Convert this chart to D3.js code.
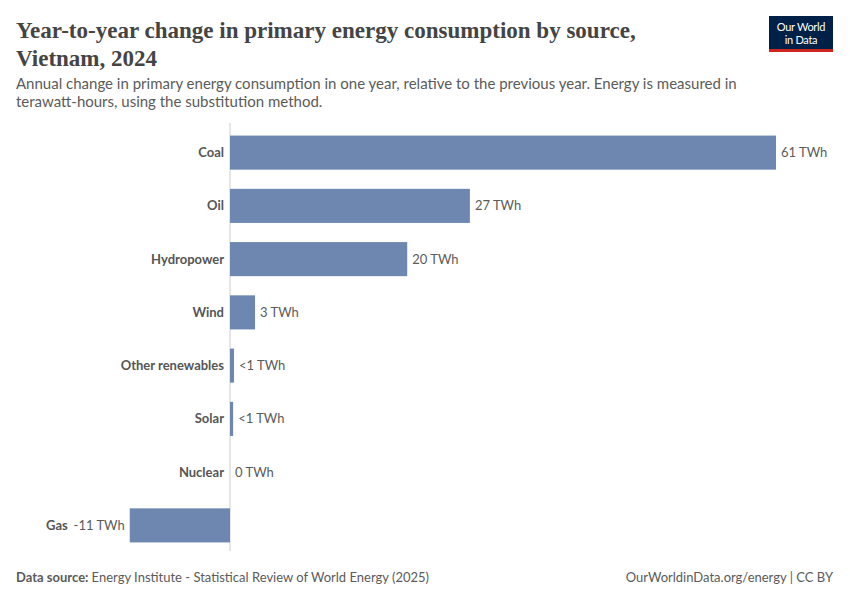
<!DOCTYPE html>
<html>
<head>
<meta charset="utf-8">
<script src="https://cdn.jsdelivr.net/npm/d3@7"></script>
<style>
  body { margin: 0; background: #fff; }
  svg { font-family: Lato, "Noto Sans", sans-serif; }
</style>
</head>
<body>
<svg id="chart" width="850" height="600"></svg>
<script>
// Data (TWh change, 2024 vs 2023)
const sources = ["Coal", "Oil", "Hydropower", "Wind", "Other renewables", "Solar", "Nuclear", "Gas"];
const changes = [61.0, 26.8, 19.8, 2.8, 0.45, 0.35, 0, -11.2];
const valueLabels = ["61 TWh", "27 TWh", "20 TWh", "3 TWh", "<1 TWh", "<1 TWh", "0 TWh", "-11 TWh"];

const data = sources.map((s, i) => ({ source: s, value: changes[i], label: valueLabels[i] }));

const svg = d3.select("#chart");

// title
const title = svg.append("g").attr("font-family", "'Liberation Serif', 'DejaVu Serif', serif")
  .attr("fill", "#444").attr("font-size", 25).attr("font-weight", 700);
const t1 = title.append("text").attr("x", 16).attr("y", 38)
  .text("Year-to-year change in primary energy consumption by source,");
title.append("text").attr("x", 16).attr("y", 66).text("Vietnam, 2024");
// fit title width to the reference
const tw = t1.node().getComputedTextLength();
title.attr("font-size", 25 * 620 / tw);

// subtitle
svg.append("text").attr("x", 16).attr("y", 89).attr("fill", "#5b5b5b").attr("font-size", 15)
  .text("Annual change in primary energy consumption in one year, relative to the previous year. Energy is measured in");
svg.append("text").attr("x", 16).attr("y", 107).attr("fill", "#5b5b5b").attr("font-size", 15)
  .text("terawatt-hours, using the substitution method.");

// logo
const logo = svg.append("g").attr("transform", "translate(769,16)");
logo.append("rect").attr("width", 64).attr("height", 36).attr("fill", "#002147");
logo.append("rect").attr("y", 33).attr("width", 64).attr("height", 3).attr("fill", "#ce261e");
logo.append("text").attr("x", 32).attr("y", 15).attr("text-anchor", "middle")
  .attr("fill", "#fff").attr("font-size", 11).attr("letter-spacing", -0.3).text("Our World");
logo.append("text").attr("x", 32).attr("y", 28).attr("text-anchor", "middle")
  .attr("fill", "#fff").attr("font-size", 11).attr("letter-spacing", -0.3).text("in Data");

// scales
const x = d3.scaleLinear()
  .domain([0, d3.max(data, d => d.value)])
  .range([230, 776]);

const y = d3.scaleBand()
  .domain(sources)
  .range([126, 552])
  .paddingInner(0.36)
  .paddingOuter(0.18);

// zero line
svg.append("line")
  .attr("x1", x(0)).attr("x2", x(0))
  .attr("y1", 123).attr("y2", 551)
  .attr("stroke", "#cccccc").attr("stroke-width", 1);

// bars
svg.selectAll(".bar")
  .data(data)
  .enter()
  .append("rect")
  .attr("class", "bar")
  .attr("x", d => x(Math.min(0, d.value)))
  .attr("y", d => y(d.source))
  .attr("width", d => Math.abs(x(d.value) - x(0)))
  .attr("height", y.bandwidth())
  .attr("fill", "#6d87b0");

// category labels
svg.selectAll(".cat")
  .data(data)
  .enter()
  .append("text")
  .attr("class", "cat")
  .attr("x", d => Math.min(x(0), x(d.value)) - (d.value < 0 ? 62 : 6))
  .attr("y", d => y(d.source) + y.bandwidth() / 2)
  .attr("dy", "0.35em")
  .attr("text-anchor", "end")
  .attr("font-size", 13)
  .attr("font-weight", 700)
  .attr("fill", "#555")
  .text(d => d.source);

// value labels
svg.selectAll(".val")
  .data(data)
  .enter()
  .append("text")
  .attr("class", "val")
  .attr("x", d => d.value < 0 ? x(d.value) - 5 : x(d.value) + 5)
  .attr("y", d => y(d.source) + y.bandwidth() / 2)
  .attr("dy", "0.35em")
  .attr("text-anchor", d => d.value < 0 ? "end" : "start")
  .attr("font-size", 13)
  .attr("fill", "#5b5b5b")
  .text(d => d.label);

// footer
const foot = svg.append("text").attr("x", 16).attr("y", 582).attr("font-size", 13).attr("fill", "#5b5b5b");
foot.append("tspan").attr("font-weight", 700).text("Data source: ");
foot.append("tspan").text("Energy Institute - Statistical Review of World Energy (2025)");
svg.append("text").attr("x", 833).attr("y", 582).attr("text-anchor", "end")
  .attr("font-size", 13).attr("fill", "#5b5b5b").text("OurWorldinData.org/energy | CC BY");
</script>
</body>
</html>
